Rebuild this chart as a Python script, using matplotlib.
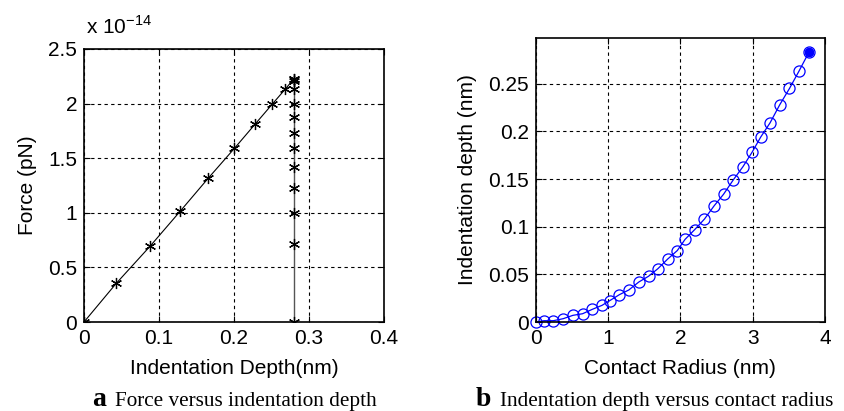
import matplotlib
matplotlib.use('agg')
import matplotlib.pyplot as plt

plt.rcParams['font.family'] = 'Liberation Sans'
plt.rcParams['mathtext.fontset'] = 'custom'
plt.rcParams['mathtext.rm'] = 'Liberation Sans'

## panel a: force vs indentation depth (force in units of 1e-14 pN)
load_depth = [0, 0.0429, 0.088, 0.128, 0.166, 0.2005, 0.228, 0.251, 0.268, 0.280]
load_force = [0, 0.353, 0.693, 1.012, 1.319, 1.589, 1.81, 1.994, 2.129, 2.227]
unload_depth = [0.280, 0.280, 0.280, 0.280, 0.280, 0.280, 0.280, 0.280, 0.280, 0.280, 0.280, 0.280]
unload_force = [2.227, 2.205, 2.129, 1.994, 1.877, 1.730, 1.589, 1.423, 1.230, 1.0, 0.718, 0]

## panel b: indentation depth vs contact radius
radius = [0, 0.116, 0.245, 0.38, 0.514, 0.648, 0.782, 0.917, 1.023, 1.157,
          1.287, 1.426, 1.56, 1.69, 1.824, 1.958, 2.065, 2.199, 2.333, 2.468,
          2.597, 2.731, 2.866, 2.991, 3.111, 3.241, 3.375, 3.509, 3.639, 3.778]
depth = [0, 0.0014, 0.0014, 0.0035, 0.007, 0.0087, 0.0133, 0.0175, 0.0224, 0.0287,
         0.0336, 0.042, 0.048, 0.056, 0.066, 0.075, 0.0867, 0.097, 0.108, 0.122,
         0.134, 0.149, 0.163, 0.178, 0.194, 0.209, 0.228, 0.245, 0.263, 0.283]

fs = 15
ast = (6, 2, 0)

fig = plt.figure(figsize=(8.45, 4.11), dpi=100)

def style(ax):
    ax.grid(True, color='k', linestyle=(0, (3, 3)), linewidth=0.8)
    ax.tick_params(direction='in', top=True, right=True, length=4, labelsize=fs, pad=5)
    for s in ax.spines.values():
        s.set_linewidth(1.2)

ax1 = fig.add_axes([0.0994, 0.2165, 0.355, 0.6645])
ax1.plot(unload_depth, unload_force, color='#555555', linewidth=1.0, marker=ast,
         markersize=8, markeredgecolor='k', markeredgewidth=0.9)
ax1.plot(load_depth, load_force, color='k', linewidth=0.8, marker=ast,
         markersize=8, markeredgewidth=0.9)
ax1.set_xlim(0, 0.4)
ax1.set_ylim(0, 2.5)
ax1.set_xticks([0, 0.1, 0.2, 0.3, 0.4])
ax1.set_xticklabels(['0', '0.1', '0.2', '0.3', '0.4'])
ax1.set_yticks([0, 0.5, 1, 1.5, 2, 2.5])
ax1.set_yticklabels(['0', '0.5', '1', '1.5', '2', '2.5'])
style(ax1)
ax1.set_xlabel('Indentation Depth(nm)', fontsize=fs, labelpad=8)
ax1.set_ylabel('Force (pN)', fontsize=fs, labelpad=8)
fig.text(86 / 845, 1 - 34 / 411, r'x 10$^{-14}$', fontsize=fs, ha='left', va='baseline')

ax2 = fig.add_axes([0.634, 0.2165, 0.3423, 0.6918])
ax2.plot(radius, depth, color='#0000ff', linewidth=0.9, marker='o', markersize=8,
         markerfacecolor='none', markeredgewidth=0.9, clip_on=False)
ax2.plot(radius[-1:], depth[-1:], color='#0000ff', marker='o', markersize=6, linestyle='none')
ax2.set_xlim(0, 4)
ax2.set_ylim(0, 0.2983)
ax2.set_xticks([0, 1, 2, 3, 4])
ax2.set_yticks([0, 0.05, 0.1, 0.15, 0.2, 0.25])
ax2.set_yticklabels(['0', '0.05', '0.1', '0.15', '0.2', '0.25'])
style(ax2)
ax2.set_xlabel('Contact Radius (nm)', fontsize=fs, labelpad=8)
ax2.set_ylabel('Indentation depth (nm)', fontsize=fs, labelpad=8)

cap_font = 'Liberation Serif'
fig.text(92 / 845, 1 - 406 / 411, 'a', fontsize=20, fontweight='bold', family=cap_font, va='baseline')
fig.text(115 / 845, 1 - 406 / 411, 'Force versus indentation depth', fontsize=15.3, family=cap_font, va='baseline')
fig.text(476 / 845, 1 - 406 / 411, 'b', fontsize=20, fontweight='bold', family=cap_font, va='baseline')
fig.text(500 / 845, 1 - 406 / 411, 'Indentation depth versus contact radius', fontsize=15.3, family=cap_font, va='baseline')

plt.savefig('out.png', dpi=100)
